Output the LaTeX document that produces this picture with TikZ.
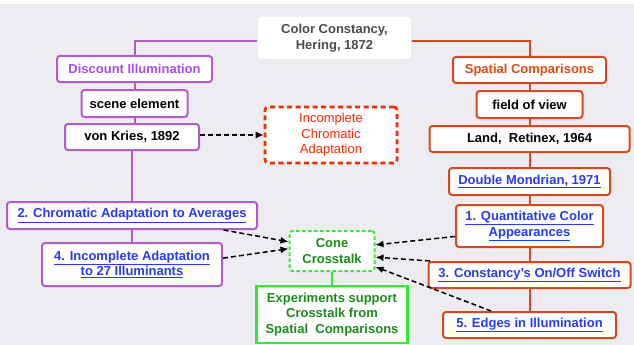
\documentclass[tikz,border=0pt]{standalone}
\usepackage{fontspec}
\setmainfont{Liberation Sans}
\usepackage{xcolor}
\usetikzlibrary{arrows.meta}

\begin{document}
\begin{tikzpicture}[x=1pt,y=-1pt,
  box/.style={draw,fill=white,rounded corners=3pt,line width=2pt,align=center,
    inner sep=0pt,font=\fontsize{13}{15.6}\selectfont\bfseries},
  purpleBox/.style={box,draw=purpleColor},
  orangeBox/.style={box,draw=orangeColor},
  greenBox/.style={box,draw=greenColor,text=greenText},
  linkText/.style={text=linkColor},
  purpleLine/.style={draw=purpleColor,line width=2pt},
  orangeLine/.style={draw=orangeColor,line width=2pt},
  crossArrow/.style={draw=black,line width=1.5pt,dash pattern=on 5pt off 3pt,
    -{Latex[length=8pt,width=7pt]}}]
\definecolor{fillColor}{RGB}{237,236,241}
\definecolor{purpleColor}{RGB}{178,92,202}
\definecolor{purpleText}{RGB}{166,78,242}
\definecolor{orangeColor}{RGB}{216,72,30}
\definecolor{orangeText}{RGB}{224,74,20}
\definecolor{linkColor}{RGB}{40,58,245}
\definecolor{greenColor}{RGB}{50,235,50}
\definecolor{greenText}{RGB}{28,140,28}
\definecolor{redColor}{RGB}{255,40,0}
\definecolor{rootText}{RGB}{75,75,75}

\path[use as bounding box,fill=fillColor] (0,0) rectangle (634,345);
\path[fill=white] (0,0) rectangle (634,4.5);

% root
\node[box,draw=none,text=rootText,minimum width=153pt,minimum height=42pt]
  (root) at (334.5,38) {Color Constancy,\\Hering, 1872};

% left branch
\node[purpleBox,text=purpleText,minimum width=155pt,minimum height=26pt]
  (discount) at (134.5,69) {Discount Illumination};
\node[purpleBox,minimum width=106pt,minimum height=27pt]
  (scene) at (134.5,103.5) {scene element};
\node[purpleBox,minimum width=134pt,minimum height=26pt]
  (kries) at (132,137) {von Kries, 1892};
\node[purpleBox,linkText,minimum width=250pt,minimum height=27pt]
  (chromatic) at (132,215.5) {\underline{2. Chromatic Adaptation to Averages}};
\node[purpleBox,linkText,minimum width=180pt,minimum height=43pt]
  (illuminants) at (132,264.5) {\underline{4. Incomplete Adaptation}\\\underline{to 27 Illuminants}};

% right branch
\node[orangeBox,text=orangeText,minimum width=153pt,minimum height=26pt]
  (spatial) at (529.5,70) {Spatial Comparisons};
\node[orangeBox,minimum width=106pt,minimum height=27pt]
  (view) at (529.5,104.5) {field of view};
\node[orangeBox,minimum width=200pt,minimum height=26pt]
  (retinex) at (529.5,139) {Land,\ \ Retinex, 1964};
\node[orangeBox,linkText,minimum width=161pt,minimum height=27pt]
  (mondrian) at (529.5,181.5) {\underline{Double Mondrian, 1971}};
\node[orangeBox,linkText,minimum width=147pt,minimum height=42pt]
  (quantitative) at (529.5,226) {\underline{1. Quantitative Color}\\\underline{Appearances}};
\node[orangeBox,linkText,minimum width=202pt,minimum height=26pt]
  (switch) at (529.5,275) {\underline{3. Constancy's On/Off Switch}};
\node[orangeBox,linkText,minimum width=173pt,minimum height=26pt]
  (edges) at (529.5,325) {\underline{5. Edges in Illumination}};

% middle
\node[box,draw=redColor,text=redColor,font=\fontsize{13}{15.6}\selectfont,
  line width=2.6pt,dash pattern=on 5pt off 3.5pt,minimum width=132pt,minimum height=56pt]
  (chromAdapt) at (331,135) {Incomplete\\Chromatic\\Adaptation};
\node[greenBox,dash pattern=on 3.5pt off 2.5pt,minimum width=85pt,minimum height=40pt]
  (cone) at (332,251) {Cone\\Crosstalk};
\node[greenBox,line width=2.4pt,rounded corners=0pt,minimum width=151pt,minimum height=57pt]
  (support) at (332,314.5) {Experiments support\\Crosstalk from\\Spatial\ \ Comparisons};

% tree lines
\draw[purpleLine] ([yshift=-3pt]root.west) -| (discount.north);
\draw[purpleLine] (discount.south) -- (discount.south |- scene.north);
\draw[purpleLine] (kries.north -| scene.south) -- (scene.south);
\draw[purpleLine] (kries.south) -- (chromatic.north);
\draw[purpleLine] (chromatic.south) -- (illuminants.north);
\draw[orangeLine] ([yshift=-3pt]root.east) -| (spatial.north);
\draw[orangeLine] (spatial.south) -- (view.north);
\draw[orangeLine] (view.south) -- (retinex.north);
\draw[orangeLine] (retinex.south) -- (mondrian.north);
\draw[orangeLine] (mondrian.south) -- (quantitative.north);
\draw[orangeLine] (quantitative.south) -- (switch.north);
\draw[orangeLine] (switch.south) -- (edges.north);
\draw[draw=greenColor,line width=2pt] (cone.south) -- (support.north);

% dashed arrows
\draw[crossArrow] ([yshift=2pt]kries.east) -- ([yshift=2pt]kries.east -| chromAdapt.west);
\draw[crossArrow] (chromatic.-9) -- (cone.168);
\draw[crossArrow] (illuminants.4) -- (cone.177);
\draw[crossArrow] (quantitative.188) -- (cone.8);
\draw[crossArrow] (switch.172) -- (cone.-8);
\draw[crossArrow] (edges.160) -- (cone.-20);
\end{tikzpicture}
\end{document}
